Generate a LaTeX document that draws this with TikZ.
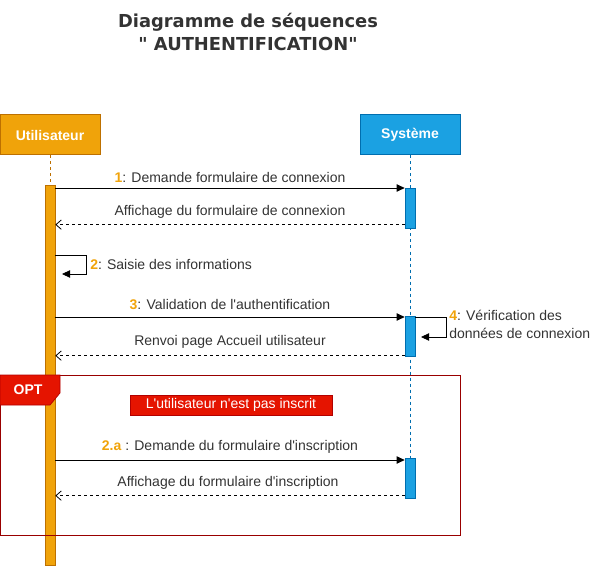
\documentclass[tikz,border=0pt]{standalone}
\usepackage{fontspec}
\setmainfont{Liberation Sans}
\newfontfamily\titlefont{DejaVu Sans}
\usetikzlibrary{arrows.meta,calc}
\definecolor{uFill}{HTML}{F0A30A}
\definecolor{uStroke}{HTML}{BD7000}
\definecolor{sFill}{HTML}{1BA1E2}
\definecolor{sStroke}{HTML}{006EAF}
\definecolor{rFill}{HTML}{E51400}
\definecolor{rStroke}{HTML}{B20000}
\definecolor{frameStroke}{HTML}{990000}
\definecolor{txt}{HTML}{333333}
\newcommand\ap{\textquotesingle}
\tikzset{
  actor/.style={minimum width=75pt, minimum height=30pt, inner sep=0pt, text=white, font=\bfseries\fontsize{10.5}{12}\selectfont, line width=0.75pt},
  actU/.style={draw=uStroke, fill=uFill, minimum width=7.5pt, inner sep=0pt, anchor=north, line width=0.5pt},
  actS/.style={draw=sStroke, fill=sFill, minimum width=7.5pt, minimum height=30pt, inner sep=0pt, anchor=north, line width=0.5pt},
  msg/.style={draw=black, line width=0.6pt, -{Triangle[length=6pt,width=5.5pt]}},
  ret/.style={draw=black, line width=0.6pt, dash pattern=on 2.25pt off 2.25pt, -{Straight Barb[length=4pt,width=7pt]}},
  lbl/.style={text=txt, font=\fontsize{10.5}{13.5}\selectfont, inner sep=0pt},
}
\begin{document}
\begin{tikzpicture}[x=0.75pt,y=-0.75pt]
\useasboundingbox (0,0) rectangle (591,566);
% title
\node[text=txt, font=\titlefont\bfseries\fontsize{13.4}{17.5}\selectfont, align=center] (title) at (248,32) {Diagramme de séquences\\" AUTHENTIFICATION"};
% actors
\node[actor, draw=uStroke, fill=uFill] (u) at (50,135) {Utilisateur};
\node[actor, draw=sStroke, fill=sFill] (s) at (410,135) {Système};
% lifelines
\coordinate (uend) at (50,565);
\coordinate (send) at (410,498);
\draw[uStroke, line width=0.6pt, dash pattern=on 2.25pt off 2.25pt] (u.south) -- (uend);
\draw[sStroke, line width=0.6pt, dash pattern=on 2.25pt off 2.25pt] (s.south) -- (send);
% activation bars
\node[actU, minimum height=285pt] (ua) at (50,185) {};
\node[actS] (sa1) at (410,188) {};
\node[actS] (sa2) at (410,316) {};
\node[actS] (sa3) at (410,458) {};
% message 1
\draw[msg] (sa1.north west -| ua.east) -- (sa1.north west);
\node[lbl, anchor=south] (l1) at (230,183) {\textcolor{uFill}{\bfseries 1}: Demande formulaire de connexion};
% return 1
\coordinate (r1) at ($(sa1.south west)+(0,-4)$);
\draw[ret] (r1) -- (r1 -| ua.east);
\node[lbl, anchor=south] (l1r) at (230,219) {Affichage du formulaire de connexion};
% self message 2
\coordinate (s2a) at (55,255);
\coordinate (s2b) at (62,274);
\draw[msg] (s2a) -- (86,255) -- (86,274) -- (s2b);
\node[lbl, anchor=west] (l2) at (90,264) {\textcolor{uFill}{\bfseries 2}: Saisie des informations};
% message 3
\coordinate (m3) at ($(sa2.north west)+(0,1)$);
\draw[msg] (m3 -| ua.east) -- (m3);
\node[lbl, anchor=south] (l3) at (230,310) {\textcolor{uFill}{\bfseries 3}: Validation de l\ap authentification};
% self message 4
\coordinate (s4a) at (415,317);
\coordinate (s4b) at (421,337);
\draw[msg] (s4a) -- (446,317) -- (446,337) -- (s4b);
\node[lbl, anchor=north west, align=left] (l4) at (449,310) {\textcolor{uFill}{\bfseries 4}: Vérification des\\données de connexion};
% return 3
\coordinate (r3) at ($(sa2.south west)+(0,-1)$);
\draw[ret] (r3) -- (r3 -| ua.east);
\node[lbl, anchor=south] (l3r) at (230,349) {Renvoi page Accueil utilisateur};
% OPT frame
\draw[frameStroke, line width=0.75pt] (0,375) rectangle (460,535);
\path[fill=rFill, draw=rStroke, line width=0.5pt] (0,375) -- (60,375) -- (60,393) -- (50,405) -- (0,405) -- cycle;
\node[text=white, font=\bfseries\fontsize{10.5}{12}\selectfont] (opt) at (28,390) {OPT};
\node[fill=rFill, draw=rStroke, line width=0.5pt, text=white, font=\fontsize{10.5}{12}\selectfont, minimum width=151.5pt, minimum height=15pt, inner sep=0pt] (cond) at (231,405) {L\ap utilisateur n\ap est pas inscrit};
% message 2.a
\coordinate (m2a) at ($(sa3.north west)+(0,2)$);
\draw[msg] (m2a -| ua.east) -- (m2a);
\node[lbl, anchor=south] (l2a) at (230,454) {\textcolor{uFill}{\bfseries 2.a} : Demande du formulaire d\ap inscription};
% return 2.a
\coordinate (r2a) at ($(sa3.south west)+(0,-3)$);
\draw[ret] (r2a) -- (r2a -| ua.east);
\node[lbl, anchor=south] (l2ar) at (228,490) {Affichage du formulaire d\ap inscription};
\end{tikzpicture}
\end{document}
